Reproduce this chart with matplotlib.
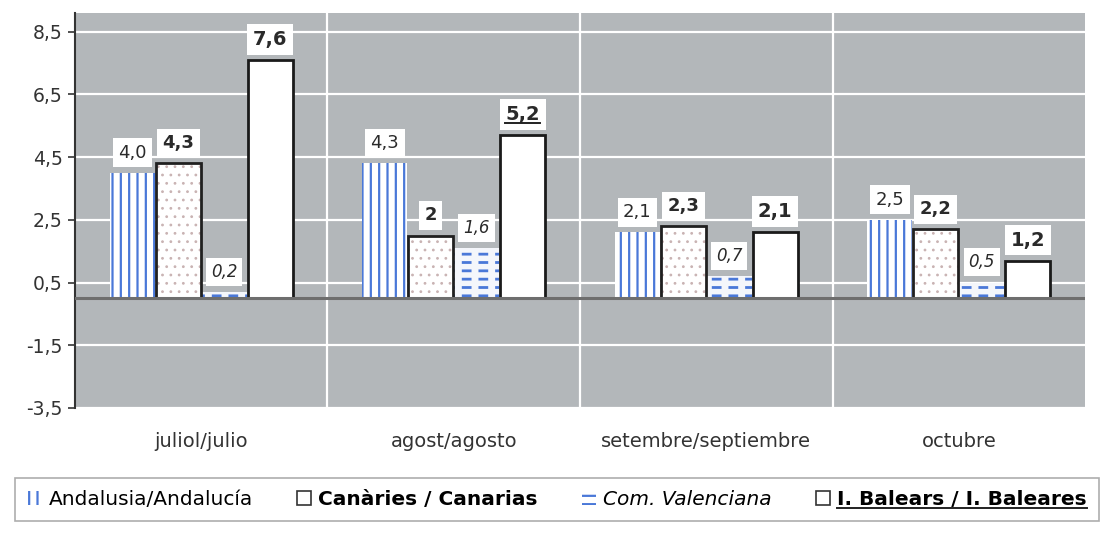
import matplotlib
matplotlib.use("Agg")
import matplotlib.pyplot as plt
import numpy as np
from matplotlib.patches import Patch
from matplotlib.lines import Line2D

plt.rcParams["font.family"] = ["DejaVu Sans"]
plt.rcParams["hatch.linewidth"] = 1.6

months = ["juliol/julio", "agost/agosto", "setembre/septiembre", "octubre"]
andalucia = [4.0, 4.3, 2.1, 2.5]
canarias = [4.3, 2.0, 2.3, 2.2]
valenciana = [0.2, 1.6, 0.7, 0.5]
baleares = [7.6, 5.2, 2.1, 1.2]
series_names = ["Andalusia/Andalucía", "Canàries / Canarias",
                "Com. Valenciana", "I. Balears / I. Baleares"]
yticks = [-3.5, -1.5, 0.5, 2.5, 4.5, 6.5, 8.5]

BG = "#b3b7ba"
BLUE = "#4a78d8"
INK = "#2a2a2a"
VAL_BG = "#f4f6fb"


def fmt(v):
    s = f"{v:.1f}".replace(".", ",")
    return "2" if v == 2.0 else s


fig = plt.figure(figsize=(11.14, 5.34), dpi=100)
ax = fig.add_axes([0.0673, 0.236, 0.9067, 0.7397])
ax.set_facecolor(BG)

x = np.arange(len(months))
w = 0.178
offs = np.array([-1.5, -0.5, 0.5, 1.5]) * 0.182

# Andalucía: white bar with blue vertical stripes
ax.bar(x + offs[0], andalucia, w, color="white", linewidth=0, zorder=3)
ax.bar(x + offs[0], andalucia, w, facecolor="none", edgecolor=BLUE,
       hatch="||", linewidth=0, zorder=3)
# Canarias: light dotted fill, dark outline
ax.bar(x + offs[1], canarias, w, color="white", linewidth=0, zorder=3)
with plt.rc_context({"hatch.linewidth": 0.8}):
    ax.bar(x + offs[1], canarias, w, facecolor="none", edgecolor="#c9b3b3",
           hatch="..", linewidth=0, zorder=3)
ax.bar(x + offs[1], canarias, w, facecolor="none", edgecolor="#202020",
       linewidth=2, zorder=4)
# Com. Valenciana: rows of short blue dashes (lines cut by white stripes)
ax.bar(x + offs[2], valenciana, w, color=VAL_BG, linewidth=0, zorder=3)
with plt.rc_context({"hatch.linewidth": 2.0}):
    ax.bar(x + offs[2], valenciana, w, facecolor="none", edgecolor=BLUE,
           hatch="--", linewidth=0, zorder=3)
with plt.rc_context({"hatch.linewidth": 5.0}):
    ax.bar(x + offs[2], valenciana, w, facecolor="none", edgecolor=VAL_BG,
           hatch="|", linewidth=0, zorder=3)
# Baleares: plain white with black outline
ax.bar(x + offs[3], baleares, w, color="white", edgecolor="#1a1a1a",
       linewidth=2, zorder=4)

label_styles = [
    dict(fontsize=13, fontweight="normal", fontstyle="normal"),
    dict(fontsize=13, fontweight="bold", fontstyle="normal"),
    dict(fontsize=12, fontweight="normal", fontstyle="italic"),
    dict(fontsize=14, fontweight="bold", fontstyle="normal"),
]
underlined = []
for k, vals in enumerate([andalucia, canarias, valenciana, baleares]):
    for i, v in enumerate(vals):
        t = ax.annotate(fmt(v), (x[i] + offs[k], v), xytext=(0, 8),
                        textcoords="offset points", ha="center", va="bottom",
                        color=INK, zorder=6,
                        bbox=dict(boxstyle="square,pad=0.3", fc="white",
                                  ec="none"),
                        **label_styles[k])
        if k == 3 and i == 1:
            underlined.append(t)

ax.axhline(0, color="#6e6e6e", linewidth=2.2, zorder=5)

ax.set_ylim(-3.5, 9.1)
ax.set_xlim(-0.5, len(months) - 0.5)
ax.set_yticks(yticks)
ax.set_yticklabels([f"{v:.1f}".replace(".", ",") for v in yticks])
ax.set_xticks(x)
ax.set_xticklabels(months)
ax.yaxis.grid(True, color="white", linewidth=1.6, zorder=1)
for b in x[:-1] + 0.5:
    ax.axvline(b, color="white", linewidth=1.6, zorder=1)
ax.set_axisbelow(True)
ax.tick_params(axis="y", length=5, width=1.2, color="#333333",
               labelsize=13.5, labelcolor="#333333", pad=4)
ax.tick_params(axis="x", length=0, labelsize=14, labelcolor="#333333",
               pad=17)
for s in ["top", "right", "bottom"]:
    ax.spines[s].set_visible(False)
ax.spines["left"].set_color("#333333")
ax.spines["left"].set_linewidth(1.5)

handles = [
    Patch(facecolor="white", edgecolor=BLUE, hatch="||", linewidth=0),
    Patch(facecolor="white", edgecolor="#333333", linewidth=1.2),
    Patch(facecolor="white", edgecolor=BLUE, hatch="--", linewidth=0),
    Patch(facecolor="white", edgecolor="#333333", linewidth=1.2),
]
leg = fig.legend(handles, series_names, loc="lower center",
                 bbox_to_anchor=(0.5, 0.005), ncol=4, fontsize=14.5,
                 frameon=True, fancybox=False, edgecolor="#999999",
                 handlelength=0.7, handleheight=0.7, handletextpad=0.35,
                 columnspacing=2.2, borderpad=0.6)
leg.get_frame().set_linewidth(1.2)
texts = leg.get_texts()
texts[1].set_fontweight("bold")
texts[2].set_fontstyle("italic")
texts[3].set_fontweight("bold")
underlined.append(texts[3])

fig.canvas.draw()
renderer = fig.canvas.get_renderer()
for t in underlined:
    bb = t.get_window_extent(renderer)
    y0 = bb.y0 + 1
    fig.add_artist(Line2D([bb.x0 / fig.bbox.width, bb.x1 / fig.bbox.width],
                          [y0 / fig.bbox.height, y0 / fig.bbox.height],
                          color="#222222", linewidth=1.4,
                          transform=fig.transFigure, zorder=10))

fig.savefig("out.png", dpi=100, facecolor="white")
